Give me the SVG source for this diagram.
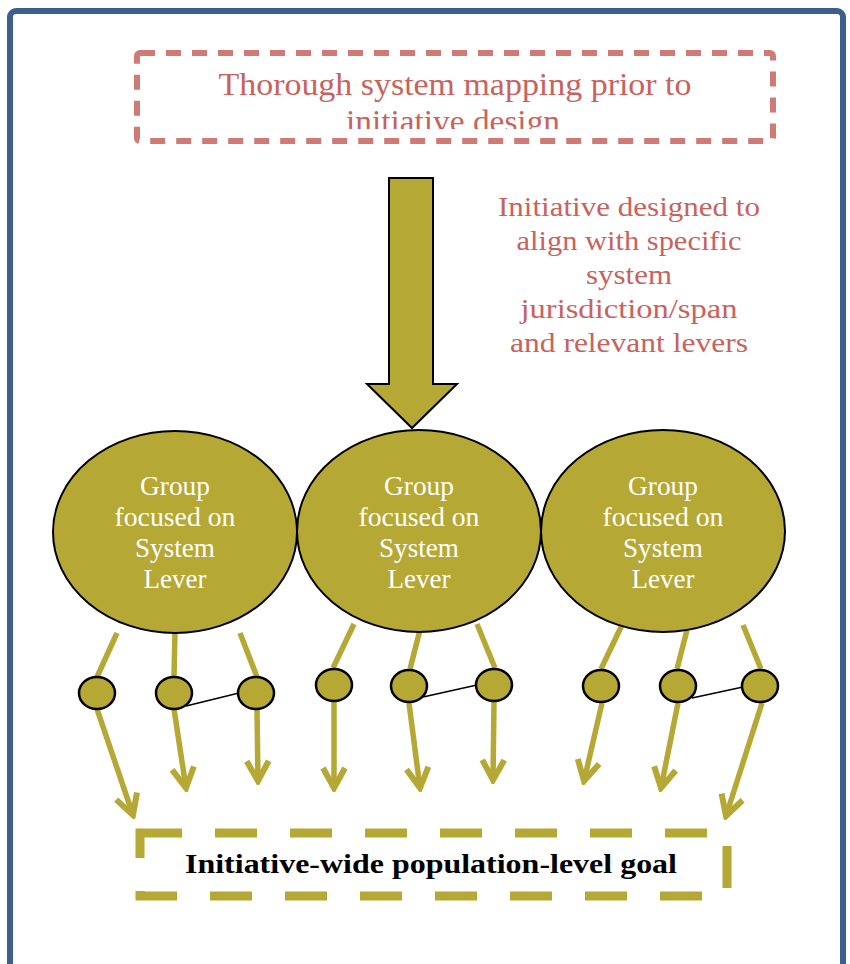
<svg xmlns="http://www.w3.org/2000/svg" width="850" height="964" viewBox="0 0 850 964">
<style>
.red{font-family:"Liberation Serif","DejaVu Serif",serif;fill:#c9625d;text-anchor:middle}
.wt{font-family:"Liberation Serif","DejaVu Serif",serif;fill:#ffffff;font-size:27px;text-anchor:middle}
.big{fill:#b5a834;stroke:#000;stroke-width:2}
.sm{fill:#b5a834;stroke:#000;stroke-width:2.5}
.stem{stroke:#b5a834;stroke-width:5.5;fill:none}
.arr{stroke:#b5a834;stroke-width:5.5;fill:none;marker-end:url(#ah)}
.lnk{stroke:#000;stroke-width:1.6}
</style>
<defs>
<marker id="ah" markerUnits="userSpaceOnUse" viewBox="-28 -16 32 32" markerWidth="32" markerHeight="32" refX="0" refY="0" orient="auto">
<path d="M -20 -11 L 0 0 L -20 11" fill="none" stroke="#b5a834" stroke-width="6" stroke-linejoin="miter"/>
</marker>
<clipPath id="cl"><rect x="140" y="56" width="630" height="73"/></clipPath>
</defs>
<rect x="10" y="11" width="833" height="990" rx="6" fill="#fff" stroke="#3b5f8e" stroke-width="6"/>

<g id="mapping">
<rect x="137" y="53" width="636" height="88" rx="3" fill="none" stroke="#d07a75" stroke-width="6" stroke-dasharray="15 11"/>
<g clip-path="url(#cl)">
<text class="red" x="455" y="95" font-size="31" textLength="473" lengthAdjust="spacingAndGlyphs">Thorough system mapping prior to</text>
<text class="red" x="453" y="132" font-size="31" textLength="214" lengthAdjust="spacingAndGlyphs">initiative design</text>
</g>
</g>

<g id="note">
<text class="red" font-size="28" x="629" y="216" textLength="262" lengthAdjust="spacingAndGlyphs">Initiative designed to</text>
<text class="red" font-size="28" x="629" y="250" textLength="225" lengthAdjust="spacingAndGlyphs">align with specific</text>
<text class="red" font-size="28" x="629" y="284" textLength="86" lengthAdjust="spacingAndGlyphs">system</text>
<text class="red" font-size="28" x="629" y="318" textLength="217" lengthAdjust="spacingAndGlyphs">jurisdiction/span</text>
<text class="red" font-size="28" x="629" y="352" textLength="238" lengthAdjust="spacingAndGlyphs">and relevant levers</text>
</g>

<g id="connectors">
<polygon points="389,178 433,178 433,384 457,384 412,428 367,384 389,384" fill="#b5a834" stroke="#000" stroke-width="2"/>
<line class="stem" x1="117" y1="633" x2="97" y2="677"/>
<line class="stem" x1="175" y1="632" x2="174" y2="676"/>
<line class="stem" x1="240" y1="633" x2="257" y2="677"/>
<line class="stem" x1="354" y1="624" x2="333" y2="668"/>
<line class="stem" x1="420" y1="630" x2="410" y2="669"/>
<line class="stem" x1="477" y1="624" x2="495" y2="668"/>
<line class="stem" x1="622" y1="625" x2="601" y2="669"/>
<line class="stem" x1="687" y1="630" x2="677" y2="669"/>
<line class="stem" x1="743" y1="625" x2="761" y2="669"/>
<line class="arr" x1="97" y1="709" x2="133" y2="815"/>
<line class="arr" x1="174" y1="709" x2="186" y2="788"/>
<line class="arr" x1="257" y1="709" x2="258" y2="781"/>
<line class="arr" x1="334" y1="702" x2="334" y2="788"/>
<line class="arr" x1="409" y1="703" x2="420" y2="788"/>
<line class="arr" x1="494" y1="702" x2="493" y2="780"/>
<line class="arr" x1="602" y1="703" x2="584" y2="781"/>
<line class="arr" x1="678" y1="703" x2="661" y2="788"/>
<line class="arr" x1="762" y1="703" x2="726" y2="816"/>
<line class="lnk" x1="186" y1="706" x2="239" y2="693"/>
<line class="lnk" x1="423" y1="697" x2="477" y2="685"/>
<line class="lnk" x1="692" y1="698" x2="743" y2="687"/>
</g>

<g id="group1">
<ellipse class="big" cx="175" cy="532" rx="122" ry="101"/>
<text class="wt" x="175" y="495" textLength="70" lengthAdjust="spacingAndGlyphs">Group</text>
<text class="wt" x="175" y="526" textLength="121" lengthAdjust="spacingAndGlyphs">focused on</text>
<text class="wt" x="175" y="557" textLength="80" lengthAdjust="spacingAndGlyphs">System</text>
<text class="wt" x="175" y="588" textLength="63" lengthAdjust="spacingAndGlyphs">Lever</text>
</g>
<g id="group3">
<ellipse class="big" cx="663" cy="531" rx="122" ry="101"/>
<text class="wt" x="663" y="495" textLength="70" lengthAdjust="spacingAndGlyphs">Group</text>
<text class="wt" x="663" y="526" textLength="121" lengthAdjust="spacingAndGlyphs">focused on</text>
<text class="wt" x="663" y="557" textLength="80" lengthAdjust="spacingAndGlyphs">System</text>
<text class="wt" x="663" y="588" textLength="63" lengthAdjust="spacingAndGlyphs">Lever</text>
</g>
<g id="group2">
<ellipse class="big" cx="419" cy="531" rx="122" ry="101"/>
<text class="wt" x="419" y="495" textLength="70" lengthAdjust="spacingAndGlyphs">Group</text>
<text class="wt" x="419" y="526" textLength="121" lengthAdjust="spacingAndGlyphs">focused on</text>
<text class="wt" x="419" y="557" textLength="80" lengthAdjust="spacingAndGlyphs">System</text>
<text class="wt" x="419" y="588" textLength="63" lengthAdjust="spacingAndGlyphs">Lever</text>
</g>

<g id="c1"><ellipse class="sm" cx="97" cy="693" rx="18" ry="16"/></g>
<g id="c2"><ellipse class="sm" cx="174" cy="693" rx="18" ry="16"/></g>
<g id="c3"><ellipse class="sm" cx="256" cy="693" rx="18" ry="16"/></g>
<g id="c4"><ellipse class="sm" cx="334" cy="685" rx="18" ry="16"/></g>
<g id="c5"><ellipse class="sm" cx="409" cy="686" rx="18" ry="16"/></g>
<g id="c6"><ellipse class="sm" cx="494" cy="685" rx="18" ry="16"/></g>
<g id="c7"><ellipse class="sm" cx="601" cy="686" rx="18" ry="16"/></g>
<g id="c8"><ellipse class="sm" cx="678" cy="686" rx="18" ry="16"/></g>
<g id="c9"><ellipse class="sm" cx="760" cy="686" rx="18" ry="16"/></g>

<g id="goal">
<rect x="140" y="833" width="587" height="63" fill="none" stroke="#b5a834" stroke-width="9" stroke-dasharray="42 33"/>
<text x="431" y="873" font-family="Liberation Serif, DejaVu Serif, serif" font-weight="bold" font-size="27" fill="#000" text-anchor="middle" textLength="492" lengthAdjust="spacingAndGlyphs">Initiative-wide population-level goal</text>
</g>
</svg>
